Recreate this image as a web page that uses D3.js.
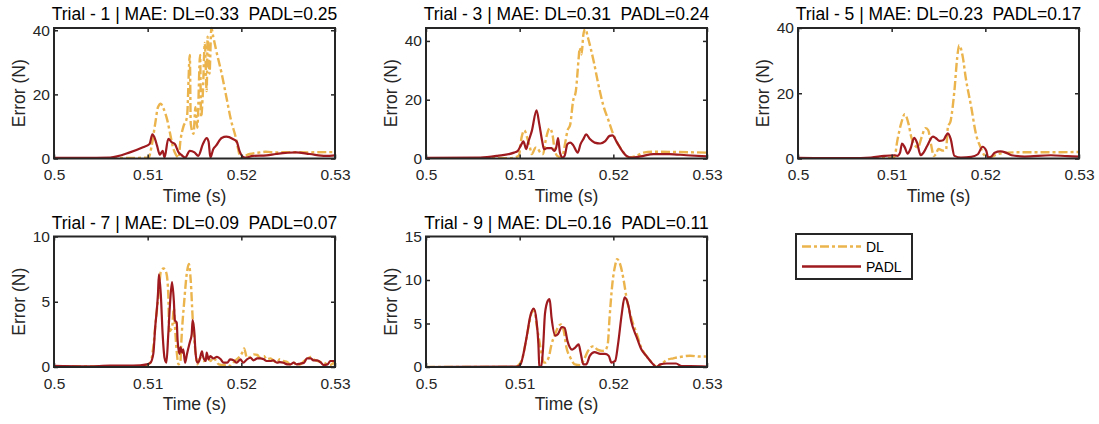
<!DOCTYPE html>
<html>
<head>
<meta charset="utf-8">
<script src="https://cdn.jsdelivr.net/npm/d3@7"></script>
<style>
  body { margin: 0; background: #fff; }
  svg text { font-family: "Liberation Sans", Arial, sans-serif; }
</style>
</head>
<body>
<svg id="drawing_region"></svg>
<script>
// values: [time (s), error (N)]
const trial1_dl = [[0.5,0.1],[0.505,0.1],[0.509,0.2],[0.5101,0.3],[0.5104,3.5],[0.5108,10.8],[0.5111,16],[0.5114,17.1],[0.5117,15.5],[0.5121,11.9],[0.5124,7.7],[0.5127,3.5],[0.5129,1.9],[0.5133,0.3],[0.5135,5.6],[0.5138,9.8],[0.5142,12.9],[0.5145,32.3],[0.5146,10.8],[0.5149,7.7],[0.5151,16],[0.5153,9.6],[0.5156,32.3],[0.5157,12.9],[0.5159,21],[0.5161,36],[0.5163,21],[0.5164,38],[0.5166,26.5],[0.5168,40.7],[0.517,38],[0.5173,33.9],[0.5179,26.5],[0.5184,19.2],[0.5189,11.9],[0.5194,6.6],[0.5197,2.4],[0.5199,0.3],[0.5209,1.4],[0.522,1.9],[0.5226,2.1],[0.5237,1.9],[0.525,2.0],[0.527,1.9],[0.529,2.0],[0.53,2.0]];
const trial1_padl = [[0.5,0.2],[0.503,0.2],[0.506,0.3],[0.5081,1.9],[0.5095,3.5],[0.5102,4.5],[0.5105,7.5],[0.5108,6],[0.511,4],[0.5113,1.2],[0.5116,2.4],[0.5118,0.3],[0.5122,6.1],[0.5126,5],[0.5129,4.5],[0.5133,1.9],[0.5136,1.1],[0.514,0.3],[0.5145,2.4],[0.515,1.9],[0.5154,0.8],[0.5159,4.5],[0.5163,6.4],[0.5165,5.3],[0.5167,0.3],[0.517,2.9],[0.5173,4],[0.5179,6.4],[0.5184,6.8],[0.5191,6.1],[0.5195,5.3],[0.5198,2.4],[0.5202,0.5],[0.5205,0.3],[0.5212,0.8],[0.5227,1.0],[0.5237,1.4],[0.5258,1.9],[0.5273,1.4],[0.529,0.8],[0.53,1.0]];

const trial3_dl = [[0.5,0.1],[0.509,0.1],[0.5099,0.9],[0.5102,7.1],[0.5105,9.6],[0.5108,7.1],[0.5111,3.7],[0.5113,1.5],[0.5117,3.7],[0.5119,3.5],[0.5122,2],[0.5125,1.5],[0.5128,6.6],[0.5132,10.3],[0.5135,8.2],[0.5137,3.7],[0.514,0.9],[0.5145,0.3],[0.5149,6],[0.5151,9.4],[0.5154,11.6],[0.5157,19.5],[0.516,23],[0.5163,34.2],[0.5164,37.6],[0.5166,35.4],[0.5168,42.1],[0.517,44.2],[0.5173,41],[0.5179,33.1],[0.5184,25.2],[0.5189,18.4],[0.5195,12.8],[0.52,8.2],[0.5205,4.9],[0.5211,2],[0.5217,0.3],[0.5225,0.9],[0.5232,2],[0.5243,2.3],[0.527,2.2],[0.53,2]];
const trial3_padl = [[0.5,0.2],[0.5058,0.3],[0.5076,0.9],[0.5094,2.0],[0.5098,2.6],[0.5101,4.3],[0.5104,5.8],[0.5107,3.2],[0.5109,5.4],[0.5113,9.4],[0.5118,16.4],[0.5121,11.6],[0.5124,6],[0.5126,3.2],[0.5129,3.5],[0.5134,3.5],[0.5137,2.6],[0.5139,3.7],[0.5141,6.9],[0.5143,2],[0.5146,0.3],[0.5148,0.9],[0.5151,4.9],[0.5154,5.4],[0.5157,4.6],[0.5162,2],[0.5165,4.9],[0.5168,6.6],[0.5171,8.2],[0.5175,6.6],[0.518,5.4],[0.5186,5.1],[0.5191,5.8],[0.5196,7.7],[0.5199,7.9],[0.5204,5.4],[0.5209,2.8],[0.5214,0.9],[0.522,0.3],[0.5229,0.7],[0.5243,1.5],[0.526,1.5],[0.5278,1.1],[0.53,0.7]];

const trial5_dl = [[0.5,0.1],[0.5095,0.1],[0.5103,0.5],[0.5106,5.4],[0.511,10.6],[0.5114,13.6],[0.5118,10.6],[0.5121,6.5],[0.5124,4.4],[0.5128,3.4],[0.5132,6.5],[0.5136,9.3],[0.5139,8.7],[0.5142,4.4],[0.5145,0.8],[0.5147,1.3],[0.515,2.9],[0.5155,2.4],[0.5158,2.6],[0.516,9.5],[0.5163,11.6],[0.5167,20.8],[0.517,31],[0.5172,34.7],[0.5176,31],[0.5179,24.9],[0.5185,15.7],[0.519,7.5],[0.5195,3.4],[0.5199,1.0],[0.5204,0.3],[0.5213,1.3],[0.5224,1.8],[0.5235,1.9],[0.527,1.9],[0.53,2.0]];
const trial5_padl = [[0.5,0.2],[0.5056,0.1],[0.5078,0.3],[0.5092,0.8],[0.5103,1.0],[0.5106,0.8],[0.5109,1.8],[0.5111,4.6],[0.5114,3.4],[0.5117,1.5],[0.512,2.9],[0.5124,6.3],[0.5127,4.9],[0.5131,1.0],[0.5134,1.8],[0.5138,3.9],[0.5144,6.7],[0.5147,6.3],[0.5151,5.4],[0.5155,5.6],[0.5158,7.0],[0.516,7.7],[0.5163,6.0],[0.5167,0.8],[0.5174,0.3],[0.5185,0.5],[0.5192,1.3],[0.5197,3.6],[0.5201,2.4],[0.5203,0.3],[0.5206,0.5],[0.521,1.8],[0.5216,2.2],[0.5222,1.8],[0.5228,1.0],[0.5242,0.6],[0.527,1.0],[0.5288,0.7],[0.53,0.6]];

const trial7_dl = [[0.5,0.05],[0.5095,0.05],[0.5103,0.33],[0.5106,1.5],[0.5109,3.8],[0.5112,5.8],[0.5114,7.3],[0.5117,7.55],[0.512,7.2],[0.5122,5.6],[0.5123,2.75],[0.5126,3.0],[0.5128,4.5],[0.5129,3.3],[0.5131,1.2],[0.5133,0.2],[0.5135,0.46],[0.5136,2.0],[0.5139,5.0],[0.5142,7.3],[0.5144,7.9],[0.5146,6.6],[0.5148,3.8],[0.5151,1.2],[0.5153,0.2],[0.5156,0.7],[0.516,0.46],[0.5163,0.84],[0.5167,0.46],[0.517,0.71],[0.5176,0.2],[0.5181,0.13],[0.5184,0.2],[0.5188,0.08],[0.5193,0.46],[0.5197,0.71],[0.5201,1.1],[0.5203,1.43],[0.5206,0.71],[0.521,0.77],[0.5213,0.97],[0.5217,0.92],[0.522,0.71],[0.5224,0.84],[0.5227,0.59],[0.5231,0.66],[0.5235,0.46],[0.5238,0.33],[0.5241,0.59],[0.5245,0.46],[0.5249,0.38],[0.5252,0.2],[0.5256,0.33],[0.5259,0.15],[0.5263,0.2],[0.5267,0.46],[0.527,0.59],[0.5274,0.77],[0.5277,0.59],[0.5281,0.46],[0.5285,0.38],[0.5288,0.33],[0.5292,0.2],[0.5295,0.15],[0.5299,0.33],[0.53,0.1]];
const trial7_padl = [[0.5,0.08],[0.503,0.05],[0.506,0.1],[0.5092,0.13],[0.5099,0.2],[0.5103,0.33],[0.5106,1.0],[0.5108,3.0],[0.5111,5.6],[0.5112,7.1],[0.5114,5.6],[0.5116,2.5],[0.5118,0.7],[0.512,0.33],[0.5122,2.5],[0.5124,5.0],[0.5126,6.5],[0.5128,5.0],[0.5129,3.6],[0.5131,3.4],[0.5132,2.0],[0.5134,1.0],[0.5135,1.5],[0.5137,1.1],[0.5138,1.35],[0.514,0.33],[0.5142,1.0],[0.5145,1.9],[0.5147,2.5],[0.5148,3.6],[0.515,2.5],[0.5151,1.2],[0.5153,0.33],[0.5155,0.46],[0.5158,1.2],[0.5159,0.84],[0.5162,0.46],[0.5163,1.1],[0.5165,0.59],[0.5167,0.84],[0.517,0.66],[0.5174,0.77],[0.5178,0.59],[0.5181,0.33],[0.5185,0.33],[0.5188,0.59],[0.5192,0.51],[0.5195,0.33],[0.5199,0.59],[0.5202,0.33],[0.5206,0.59],[0.521,0.71],[0.5213,0.51],[0.5217,0.66],[0.522,0.66],[0.5224,0.59],[0.5227,0.46],[0.5231,0.46],[0.5234,0.51],[0.5238,0.33],[0.5241,0.38],[0.5245,0.33],[0.5249,0.2],[0.5252,0.2],[0.5256,0.33],[0.5259,0.2],[0.5263,0.26],[0.5267,0.33],[0.527,0.66],[0.5274,0.66],[0.5277,0.51],[0.5281,0.51],[0.5285,0.33],[0.5288,0.15],[0.5292,0.2],[0.5295,0.46],[0.5299,0.46],[0.53,0.36]];

const trial9_dl = [[0.5,0],[0.5095,0],[0.5102,0.7],[0.5106,2.6],[0.511,4.9],[0.5113,6.3],[0.5116,6.5],[0.5118,4.9],[0.5121,3.0],[0.5124,1.1],[0.5126,0.5],[0.5127,0.5],[0.5131,1.1],[0.5134,2.6],[0.5138,3.8],[0.5141,4.6],[0.5144,4.9],[0.5147,4.2],[0.515,2.2],[0.5154,1.1],[0.5159,0.3],[0.5165,0.2],[0.5168,0.7],[0.5173,1.85],[0.5179,2.4],[0.5183,2.0],[0.5188,1.85],[0.5191,1.9],[0.5194,2.6],[0.5196,5.7],[0.5199,9.6],[0.5202,11.7],[0.5204,12.4],[0.5207,11.9],[0.5211,10],[0.5214,8.0],[0.5219,5.7],[0.5225,3.8],[0.523,2.2],[0.5235,1.3],[0.5243,0.3],[0.5246,0],[0.5251,0.3],[0.5257,0.8],[0.5264,1.0],[0.5271,1.15],[0.5282,1.3],[0.5292,1.2],[0.53,1.2]];
const trial9_padl = [[0.5,0],[0.5097,0.05],[0.5101,0.3],[0.5104,1.5],[0.5108,3.8],[0.5111,5.7],[0.5115,6.7],[0.5118,5.3],[0.512,2.6],[0.5121,0.1],[0.5123,0],[0.5125,2.2],[0.5127,6.1],[0.513,7.6],[0.5132,7.8],[0.5134,5.7],[0.5138,3.6],[0.5141,3.8],[0.5145,4.6],[0.5148,4.5],[0.5151,3.0],[0.5156,2.0],[0.5159,2.2],[0.5163,2.6],[0.5165,1.7],[0.5168,0.3],[0.5171,0.3],[0.5175,1.3],[0.518,1.7],[0.5186,1.5],[0.5191,1.5],[0.5195,1.3],[0.5198,0.5],[0.5202,0.7],[0.5205,2.6],[0.5209,6.1],[0.5212,8.0],[0.5216,7.1],[0.5219,5.3],[0.5225,3.4],[0.523,2.0],[0.5235,1.3],[0.5241,0.5],[0.5246,0],[0.525,0.3],[0.5257,0.4],[0.5267,0.4],[0.5273,0.1],[0.5282,0.1],[0.53,0.05]];

const titles = [
  'Trial - 1 | MAE: DL=0.33  PADL=0.25',
  'Trial - 3 | MAE: DL=0.31  PADL=0.24',
  'Trial - 5 | MAE: DL=0.23  PADL=0.17',
  'Trial - 7 | MAE: DL=0.09  PADL=0.07',
  'Trial - 9 | MAE: DL=0.16  PADL=0.11'
];
const ymaxes = [40.7, 44.4, 40, 10, 15];
const yticks = [[0,20,40], [0,20,40], [0,20,40], [0,5,10], [0,5,10,15]];
const xticks = [0.5, 0.51, 0.52, 0.53];
const xdomain = [0.5, 0.53];
const seriesNames = ['DL', 'PADL'];

const colors = { DL: '#EBB44C', PADL: '#9E1A1E' };
const dashes = { DL: '9,3,3,3', PADL: null };

const svg = d3.select('#drawing_region')
    .attr('width', 1099)
    .attr('height', 424);

class ErrorPlot {
  constructor(config, dl, padl) {
    this.config = config;
    this.dl = dl;
    this.padl = padl;
    this.init();
  }
  init() {
    let self = this;
    self.chart = svg.append('g')
        .attr('transform', `translate(${self.config.left}, ${self.config.top})`);
    self.inner_width = self.config.width;
    self.inner_height = self.config.height;

    self.xscale = d3.scaleLinear().domain(xdomain).range([0, self.inner_width]);
    self.yscale = d3.scaleLinear().domain([0, self.config.ymax]).range([self.inner_height, 0]);
    self.line = d3.line()
        .x(d => self.xscale(d[0]))
        .y(d => self.yscale(d[1]))
        .curve(d3.curveMonotoneX);
  }
  render() {
    let self = this;
    const w = self.inner_width, h = self.inner_height;
    const id = 'clip' + self.config.index;
    self.chart.append('clipPath').attr('id', id)
      .append('rect').attr('x', 0).attr('y', -2).attr('width', w).attr('height', h + 2);

    const lines = self.chart.append('g').attr('clip-path', `url(#${id})`);
    [['DL', self.dl], ['PADL', self.padl]].forEach(([name, data]) => {
      lines.append('path')
          .attr('d', self.line(data))
          .attr('fill', 'none')
          .attr('stroke', colors[name])
          .attr('stroke-width', name == 'DL' ? 2.4 : 2.2)
          .attr('stroke-dasharray', dashes[name])
          .attr('stroke-linejoin', 'round');
    });

    const style = g => {
      g.select('.domain').remove();
      g.selectAll('.tick line').attr('stroke', '#262626').attr('stroke-width', 1.5);
      g.selectAll('.tick text').attr('fill', '#262626').style('font-size', '15.5px');
    };
    self.chart.append('g')
        .attr('transform', `translate(0, ${h})`)
        .call(d3.axisBottom(self.xscale).tickValues(xticks).tickSizeInner(-4).tickSizeOuter(0)
              .tickPadding(10.5).tickFormat(d => d))
        .call(style);
    self.chart.append('g')
        .call(d3.axisTop(self.xscale).tickValues(xticks).tickSizeInner(-4).tickSizeOuter(0).tickFormat(''))
        .call(style);
    self.chart.append('g')
        .call(d3.axisLeft(self.yscale).tickValues(self.config.yticks).tickSizeInner(-4).tickSizeOuter(0)
              .tickPadding(4).tickFormat(d => d))
        .call(style);
    self.chart.append('g')
        .attr('transform', `translate(${w}, 0)`)
        .call(d3.axisRight(self.yscale).tickValues(self.config.yticks).tickSizeInner(-4).tickSizeOuter(0).tickFormat(''))
        .call(style);

    self.chart.append('rect')
        .attr('width', w).attr('height', h)
        .attr('fill', 'none')
        .attr('stroke', '#262626')
        .attr('stroke-width', 2);

    self.chart.append('text')
        .attr('x', w / 2).attr('y', -8)
        .attr('text-anchor', 'middle')
        .style('white-space', 'pre')
        .style('font-size', '17.5px')
        .attr('fill', '#000')
        .text(self.config.title);
    self.chart.append('text')
        .attr('x', w / 2).attr('y', h + 43)
        .attr('text-anchor', 'middle')
        .style('font-size', '17.5px')
        .attr('fill', '#262626')
        .text('Time (s)');
    self.chart.append('text')
        .attr('transform', `translate(-29, ${h / 2}) rotate(-90)`)
        .attr('text-anchor', 'middle')
        .style('font-size', '17.5px')
        .attr('fill', '#262626')
        .text('Error (N)');
  }
}

const lefts = [54, 426, 798];
const tops = [28, 236.5];
const trials = [
  [trial1_dl, trial1_padl], [trial3_dl, trial3_padl], [trial5_dl, trial5_padl],
  [trial7_dl, trial7_padl], [trial9_dl, trial9_padl]
];
trials.forEach((t, i) => {
  const config = {
    index: i,
    left: lefts[i % 3],
    top: tops[Math.floor(i / 3)],
    width: 281,
    height: 130.5,
    ymax: ymaxes[i],
    yticks: yticks[i],
    title: titles[i]
  };
  const plot = new ErrorPlot(config, t[0], t[1]);
  plot.render();
});

// legend
const legend = svg.append('g').attr('transform', 'translate(796, 234)');
legend.append('rect')
    .attr('width', 116).attr('height', 45)
    .attr('fill', '#fff')
    .attr('stroke', '#262626')
    .attr('stroke-width', 2);
seriesNames.forEach((name, i) => {
  legend.append('line')
      .attr('x1', 6).attr('x2', 65)
      .attr('y1', 12.5 + i * 20).attr('y2', 12.5 + i * 20)
      .attr('stroke', colors[name])
      .attr('stroke-width', 2.4)
      .attr('stroke-dasharray', dashes[name]);
  legend.append('text')
      .attr('x', 70).attr('y', 12.5 + i * 20)
      .attr('dy', '0.36em')
      .style('font-size', '14px')
      .attr('fill', '#000')
      .text(name);
});
</script>
</body>
</html>
